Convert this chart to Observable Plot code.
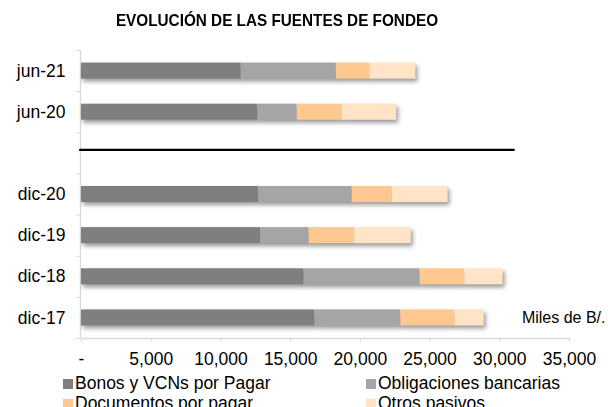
<!DOCTYPE html>
<html>
<head>
<meta charset="utf-8">
<script src="https://cdn.jsdelivr.net/npm/d3@7"></script>
<script src="https://cdn.jsdelivr.net/npm/@observablehq/plot@0.6"></script>
<style>
  body { margin: 0; background: #fff; }
  #wrap { position: relative; width: 608px; height: 407px; overflow: hidden; font-family: "Liberation Sans", Arial, sans-serif; color: #000; }
  #title { height: 38px; width: 554px; text-align: center; font-weight: bold; font-size: 17px; line-height: 17px; box-sizing: border-box; }
  #title span { position: relative; top: 12px; display: inline-block; transform: scaleX(0.9); transform-origin: center; }
  #chart svg { display: block; }
  .leg { position: absolute; font-size: 17.5px; line-height: 19px; white-space: nowrap; }
  .leg i { position: absolute; width: 10px; height: 10px; top: 5px; }
</style>
</head>
<body>
<div id="wrap">
  <div id="title"><span></span></div>
  <div id="chart"></div>
  <div id="legend"></div>
</div>
<script>
const titleText = "EVOLUCIÓN DE LAS FUENTES DE FONDEO";
const periods = ["jun-21", "jun-20", "dic-20", "dic-19", "dic-18", "dic-17"];
const gapKey = " ";
const yOrder = ["jun-21", "jun-20", gapKey, "dic-20", "dic-19", "dic-18", "dic-17"];
const seriesNames = ["Bonos y VCNs por Pagar", "Obligaciones bancarias", "Documentos por pagar", "Otros pasivos"];
const seriesColors = ["#7f7f7f", "#a5a5a5", "#ffc891", "#ffe4c8"];
const bonos        = [11460, 12660, 12710, 12850, 15970, 16750];
const obligaciones = [ 6820,  2810,  6710,  3480,  8320,  6150];
const documentos   = [ 2390,  3230,  2870,  3260,  3200,  3890];
const otros        = [ 3310,  3900,  4000,  4060,  2750,  2090];
const xTicks = [0, 5000, 10000, 15000, 20000, 25000, 30000, 35000];
const unitLabel = "Miles de B/.";
const separatorX = [-130, 31100];

const seriesValues = [bonos, obligaciones, documentos, otros];
const rows = [];
seriesNames.forEach((s, si) => {
  periods.forEach((p, pi) => rows.push({period: p, series: s, value: seriesValues[si][pi]}));
});

document.querySelector("#title span").textContent = titleText;

const plotTop = 12, plotBottom = 34, svgH = 334;
const step = (svgH - plotTop - plotBottom) / yOrder.length;

const chart = Plot.plot({
  width: 608,
  height: svgH,
  marginTop: plotTop,
  marginBottom: plotBottom,
  marginLeft: 81,
  marginRight: 39,
  style: {fontFamily: "Liberation Sans, Arial, sans-serif", fontSize: "17.5px", color: "#000", background: "transparent", overflow: "visible"},
  x: {domain: [0, 35000], label: null},
  y: {domain: yOrder, type: "band", paddingInner: 0.61, paddingOuter: 0.305, round: false, label: null},
  color: {domain: seriesNames, range: seriesColors},
  marks: [
    Plot.ruleX([0], {stroke: "#d9d9d9", strokeWidth: 1.3, dx: -1}),
    Plot.ruleY(["dic-17"], {stroke: "#d9d9d9", strokeWidth: 1.3, dy: step / 2}),
    Plot.axisY({ticks: yOrder, tickSize: 4, tickFormat: () => "", dy: -step / 2, dx: -1, stroke: "#d9d9d9", label: null}),
    Plot.axisY({ticks: ["dic-17"], tickSize: 4, tickFormat: () => "", dy: step / 2, dx: -1, stroke: "#d9d9d9", label: null}),
    Plot.axisY({tickSize: 0, tickPadding: 16, tickFormat: d => d === gapKey ? "" : d, label: null}),
    Plot.axisX({ticks: xTicks, tickSize: 4, tickPadding: 10, stroke: "#d9d9d9", tickFormat: d => d === 0 ? "-" : d3.format(",")(d), label: null}),
    Plot.barX(rows, {x: "value", y: "period", fill: "series", order: seriesNames}),
    Plot.ruleY([gapKey], {x1: separatorX[0], x2: separatorX[1], stroke: "#000", strokeWidth: 2.2, dy: -3.5}),
    Plot.text([unitLabel], {text: d => d, frameAnchor: "bottom-right", textAnchor: "end", dx: 36, dy: -16, fontSize: 16, fill: "#000"})
  ]
});
const barG = chart.querySelector('g[aria-label="bar"]');
if (barG) barG.style.filter = "drop-shadow(2px 3px 2px rgba(0,0,0,0.4))";
document.getElementById("chart").appendChild(chart);

const legendPos = [[63, 374], [366, 374], [63, 393.5], [366, 393.5]];
const legend = document.getElementById("legend");
seriesNames.forEach((s, i) => {
  const d = document.createElement("div");
  d.className = "leg";
  d.style.left = legendPos[i][0] + "px";
  d.style.top = legendPos[i][1] + "px";
  d.style.paddingLeft = "12px";
  const sw = document.createElement("i");
  sw.style.left = "0px";
  sw.style.background = seriesColors[i];
  d.appendChild(sw);
  d.appendChild(document.createTextNode(s));
  legend.appendChild(d);
});
</script>
</body>
</html>
